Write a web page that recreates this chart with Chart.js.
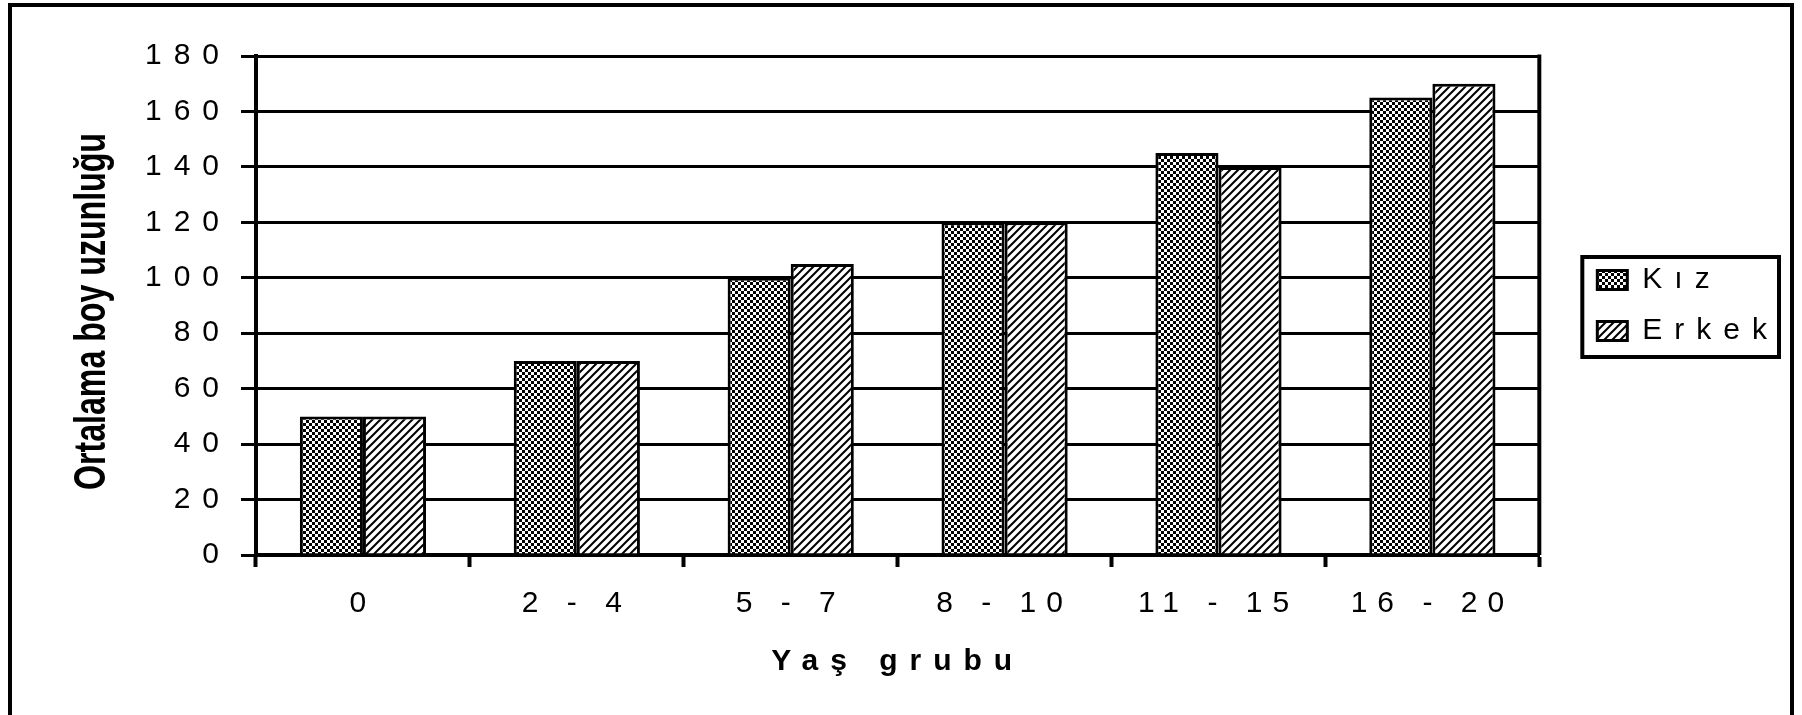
<!DOCTYPE html>
<html>
<head>
<meta charset="utf-8">
<script src="https://cdn.jsdelivr.net/npm/chart.js@4.4.0/dist/chart.umd.min.js"></script>
<style>
  html, body { margin: 0; padding: 0; background: #fff; }
</style>
</head>
<body>
<canvas id="boyChart" width="1802" height="715"></canvas>
<script>
// veriler
const yasGruplari = ['0', '2 - 4', '5 - 7', '8 - 10', '11 - 15', '16 - 20'];
const kizBoy = [50, 70, 100, 120, 145, 165];
const erkekBoy = [50, 70, 105, 120, 140, 170];
const boyTicks = [0, 20, 40, 60, 80, 100, 120, 140, 160, 180];
const yBaslik = 'Ortalama boy uzunluğu';
const xBaslik = 'Yaş grubu';

const yazi = '"Liberation Sans", Arial, sans-serif';

const canvas = document.getElementById('boyChart');
const ctx = canvas.getContext('2d');

// kareli ve taralı dolgular
function makePattern(kind) {
    const tile = document.createElement('canvas');
    const p = tile.getContext('2d');
    if (kind === 'kareli') {
        tile.width = 6; tile.height = 6;
        p.fillStyle = '#fff'; p.fillRect(0, 0, 6, 6);
        p.fillStyle = '#000';
        p.fillRect(0, 0, 3, 3);
        p.fillRect(3, 3, 3, 3);
    } else {
        tile.width = 8; tile.height = 8;
        p.fillStyle = '#fff'; p.fillRect(0, 0, 8, 8);
        p.strokeStyle = '#000'; p.lineWidth = 2;
        p.beginPath();
        p.moveTo(-1, 9); p.lineTo(9, -1);
        p.moveTo(-1, 1); p.lineTo(1, -1);
        p.moveTo(7, 9); p.lineTo(9, 7);
        p.stroke();
    }
    return ctx.createPattern(tile, 'repeat');
}

const cerceve = {
    id: 'cerceve',
    beforeUpdate(chart) {
        chart.ctx.letterSpacing = '12px';
    },
    beforeDraw(chart) {
        const c = chart.ctx;
        c.letterSpacing = '12px';
        c.save();
        c.strokeStyle = '#000';
        c.lineWidth = 4;
        c.beginPath();
        c.moveTo(10, 730); c.lineTo(10, 5); c.lineTo(1792, 5); c.lineTo(1792, 730);
        c.stroke();
        c.restore();
    },
    afterDatasetsDraw(chart) {
        // x etiketleri biraz daha sık
        chart.ctx.letterSpacing = '10px';
    },
    afterDraw(chart) {
        const c = chart.ctx;
        const a = chart.chartArea;
        c.save();
        c.strokeStyle = '#000';
        c.lineWidth = 4;
        // plot alanının sağ kenarı
        c.beginPath();
        c.moveTo(a.right, a.top - 1.5);
        c.lineTo(a.right, a.bottom);
        c.stroke();

        // lejant çerçevesi
        const boxes = chart.legend.legendHitBoxes;
        if (boxes && boxes.length) {
            const l = Math.min(...boxes.map(b => b.left)) - 15;
            const r = Math.max(...boxes.map(b => b.left + b.width));
            const t = Math.min(...boxes.map(b => b.top)) - 8;
            const btm = Math.max(...boxes.map(b => b.top + b.height)) + 11;
            c.strokeRect(l, t, r - l, btm - t);
        }

        // y ekseni başlığı
        c.letterSpacing = '0px';
        c.font = 'bold 44px ' + yazi;
        const w = c.measureText(yBaslik).width;
        c.translate(93, (a.top + a.bottom) / 2 + 6);
        c.rotate(-Math.PI / 2);
        c.scale(357 / w, 1);
        c.textAlign = 'center';
        c.textBaseline = 'middle';
        c.fillStyle = '#000';
        c.fillText(yBaslik, 0, 0);
        c.restore();
        c.letterSpacing = '12px';
    }
};

new Chart(ctx, {
    type: 'bar',
    data: {
        labels: yasGruplari,
        datasets: [{
            label: 'Kız',
            data: kizBoy,
            backgroundColor: makePattern('kareli'),
            borderColor: '#000',
            borderWidth: 3
        }, {
            label: 'Erkek',
            data: erkekBoy,
            backgroundColor: makePattern('tarali'),
            borderColor: '#000',
            borderWidth: 3
        }]
    },
    options: {
        responsive: false,
        animation: false,
        devicePixelRatio: 1,
        categoryPercentage: 0.59,
        barPercentage: 1.0,
        layout: { padding: { top: 56, right: 13, bottom: 0, left: 0 } },
        plugins: {
            tooltip: { enabled: false },
            legend: {
                position: 'right',
                fullSize: false,
                labels: {
                    boxWidth: 30,
                    boxHeight: 19,
                    padding: 21,
                    color: '#000',
                    font: { size: 30, family: yazi }
                }
            }
        },
        scales: {
            x: {
                grid: {
                    offset: true,
                    drawOnChartArea: false,
                    drawTicks: true,
                    tickLength: 12,
                    tickColor: '#000',
                    tickWidth: 4,
                    color: '#000'
                },
                border: { display: true, color: '#000', width: 4 },
                ticks: {
                    z: 1,
                    color: '#000',
                    font: { size: 30, family: yazi },
                    padding: 19,
                    maxRotation: 0,
                    autoSkip: false
                },
                title: {
                    display: true,
                    text: xBaslik,
                    color: '#000',
                    font: { size: 30, weight: 'bold', family: yazi },
                    padding: { top: 0, bottom: 35 }
                },
                afterFit(s) { s.height = 160; }
            },
            y: {
                min: 0,
                max: 180,
                afterBuildTicks(s) { s.ticks = boyTicks.map(v => ({ value: v })); },
                grid: {
                    color: '#000',
                    lineWidth: 3,
                    drawTicks: true,
                    tickLength: 15,
                    tickColor: '#000',
                    tickWidth: 3
                },
                border: { display: true, color: '#000', width: 4 },
                ticks: {
                    color: '#000',
                    font: { size: 30, family: yazi },
                    padding: 10
                },
                afterFit(s) { s.width = 256; }
            },
            // lejant ile grafik arasındaki boşluk
            bosluk: {
                type: 'linear',
                position: 'right',
                grid: { display: false },
                ticks: { display: false },
                border: { display: false },
                afterFit(s) { s.width = 37; }
            }
        }
    },
    plugins: [cerceve]
});
</script>
</body>
</html>
